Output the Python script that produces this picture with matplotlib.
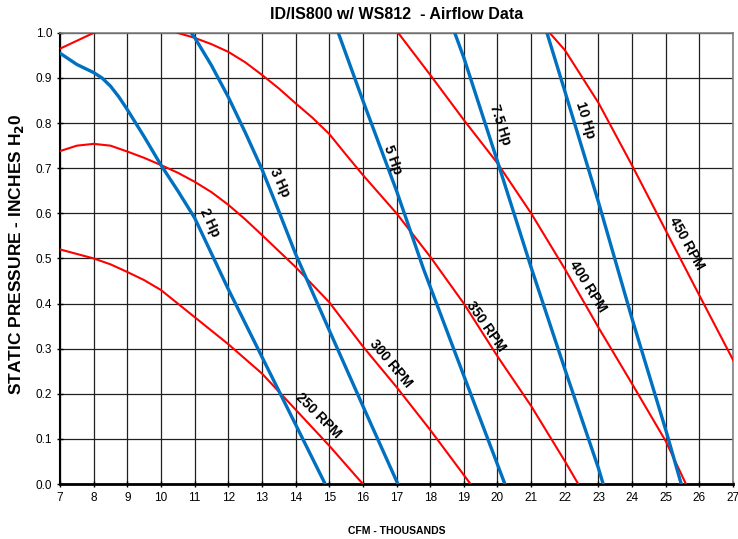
import numpy as np
import matplotlib
matplotlib.use('Agg')
import matplotlib.pyplot as plt

plt.rcParams['font.family'] = ['Liberation Sans', 'DejaVu Sans']

# Fan curves (RPM), CFM in thousands vs static pressure
rpm_250_x = [7, 8, 8.5, 9, 9.5, 10, 10.5, 11, 12, 13, 14, 15, 16]
rpm_250_y = [0.52, 0.50, 0.487, 0.47, 0.452, 0.43, 0.40, 0.37, 0.31, 0.245, 0.165, 0.085, 0.0]

rpm_300_x = [7, 7.5, 8, 8.5, 9, 9.5, 10, 10.5, 11, 11.5, 12, 12.5, 13, 14, 15, 16, 17, 18, 19, 19.2]
rpm_300_y = [0.738, 0.75, 0.754, 0.75, 0.737, 0.723, 0.707, 0.69, 0.67, 0.647, 0.619, 0.587, 0.552, 0.481, 0.403, 0.305,
             0.215, 0.12, 0.02, 0.0]

rpm_350_x = [7, 8, 9, 10, 10.5, 11, 11.5, 12, 12.5, 13, 13.5, 14, 14.5, 15, 15.5, 16, 17, 18, 19, 20, 21, 22, 22.4]
rpm_350_y = [0.965, 1.0, 1.02, 1.015, 1.0, 0.989, 0.975, 0.958, 0.935, 0.907, 0.877, 0.844, 0.812, 0.776, 0.73,
             0.685, 0.60, 0.504, 0.40, 0.283, 0.173, 0.051, 0.0]

rpm_400_x = [17.05, 18, 19, 20, 21, 22, 23, 24, 25, 25.6]
rpm_400_y = [1.0, 0.907, 0.807, 0.711, 0.60, 0.477, 0.347, 0.222, 0.095, 0.0]

rpm_450_x = [21.55, 22, 23, 24, 25, 26, 27]
rpm_450_y = [1.0, 0.962, 0.845, 0.706, 0.562, 0.418, 0.275]

# Motor horsepower curves
hp_2_x = [7, 7.5, 8, 8.25, 8.5, 8.75, 9, 9.5, 10, 10.5, 11, 12, 13, 14, 14.88]
hp_2_y = [0.955, 0.93, 0.912, 0.9, 0.882, 0.858, 0.83, 0.77, 0.707, 0.65, 0.59, 0.432, 0.282, 0.132, 0.0]

hp_3_x = [10.9, 11, 11.5, 12, 12.5, 13, 13.5, 14, 15, 16, 17.04]
hp_3_y = [1.0, 0.99, 0.928, 0.858, 0.78, 0.698, 0.605, 0.51, 0.341, 0.173, 0.0]

hp_5_x = [15.27, 16, 17, 17.8, 19, 20.22]
hp_5_y = [1.0, 0.85, 0.65, 0.477, 0.24, 0.0]

hp_75_x = [18.73, 19, 20, 21, 22, 23, 23.14]
hp_75_y = [1.0, 0.945, 0.715, 0.48, 0.255, 0.035, 0.0]

hp_10_x = [21.47, 22, 23, 24, 25, 25.46]
hp_10_y = [1.0, 0.871, 0.625, 0.366, 0.12, 0.0]

rpm_curves = [(rpm_250_x, rpm_250_y), (rpm_300_x, rpm_300_y), (rpm_350_x, rpm_350_y),
              (rpm_400_x, rpm_400_y), (rpm_450_x, rpm_450_y)]
hp_curves = [(hp_2_x, hp_2_y), (hp_3_x, hp_3_y), (hp_5_x, hp_5_y),
             (hp_75_x, hp_75_y), (hp_10_x, hp_10_y)]

# curve labels: text, x, y, rotation
labels = [
    ('2 Hp', 11.46, 0.58, -65),
    ('3 Hp', 13.54, 0.667, -65),
    ('5 Hp', 16.9, 0.718, -70),
    ('7.5 Hp', 20.07, 0.796, -72),
    ('10 Hp', 22.6, 0.807, -73),
    ('250 RPM', 14.67, 0.151, -45),
    ('300 RPM', 16.84, 0.266, -50),
    ('350 RPM', 19.66, 0.35, -55),
    ('400 RPM', 22.69, 0.437, -58),
    ('450 RPM', 25.63, 0.534, -61),
]

fig = plt.figure(figsize=(7.38, 5.39), dpi=100)
ax = fig.add_axes([0.0813, 0.102, 0.912, 0.837])

for xs, ys in rpm_curves:
    ax.plot(xs, ys, color='#FF0000', lw=1.5, zorder=3)
for xs, ys in hp_curves:
    ax.plot(xs, ys, color='#0070C0', lw=2.4, zorder=4)

for txt, x, y, rot in labels:
    ax.text(x, y, txt, rotation=rot, ha='center', va='center',
            fontsize=10, fontweight='bold', zorder=5)

ax.set_xlim(7, 27)
ax.set_ylim(0, 1.0)
ax.set_xticks(np.arange(7, 28, 1))
ax.set_yticks(np.arange(0, 1.01, 0.1))
ax.set_yticklabels([f'{v:.1f}' for v in np.arange(0, 1.01, 0.1)])
ax.grid(True, color='#202020', lw=0.9, zorder=1)
ax.set_axisbelow(True)
ax.tick_params(direction='inout', length=4, width=1, labelsize=8.5, colors='black')
ax.tick_params(axis='x', pad=4)

for side in ['top', 'right']:
    ax.spines[side].set_color('#808080')
    ax.spines[side].set_linewidth(1.2)
ax.spines['bottom'].set_linewidth(2)
ax.spines['left'].set_linewidth(1.5)

ax.set_title('ID/IS800 w/ WS812  - Airflow Data', fontsize=11.5, fontweight='bold', pad=10)
ax.set_ylabel('STATIC PRESSURE - INCHES H$_\\mathbf{2}$0', fontsize=12.5, fontweight='bold')
ax.yaxis.set_label_coords(-0.05, 0.51)
ax.set_xlabel('CFM - THOUSANDS', fontsize=7.5, fontweight='bold')
ax.xaxis.set_label_coords(0.5, -0.092)

fig.savefig('out.png', dpi=100)
